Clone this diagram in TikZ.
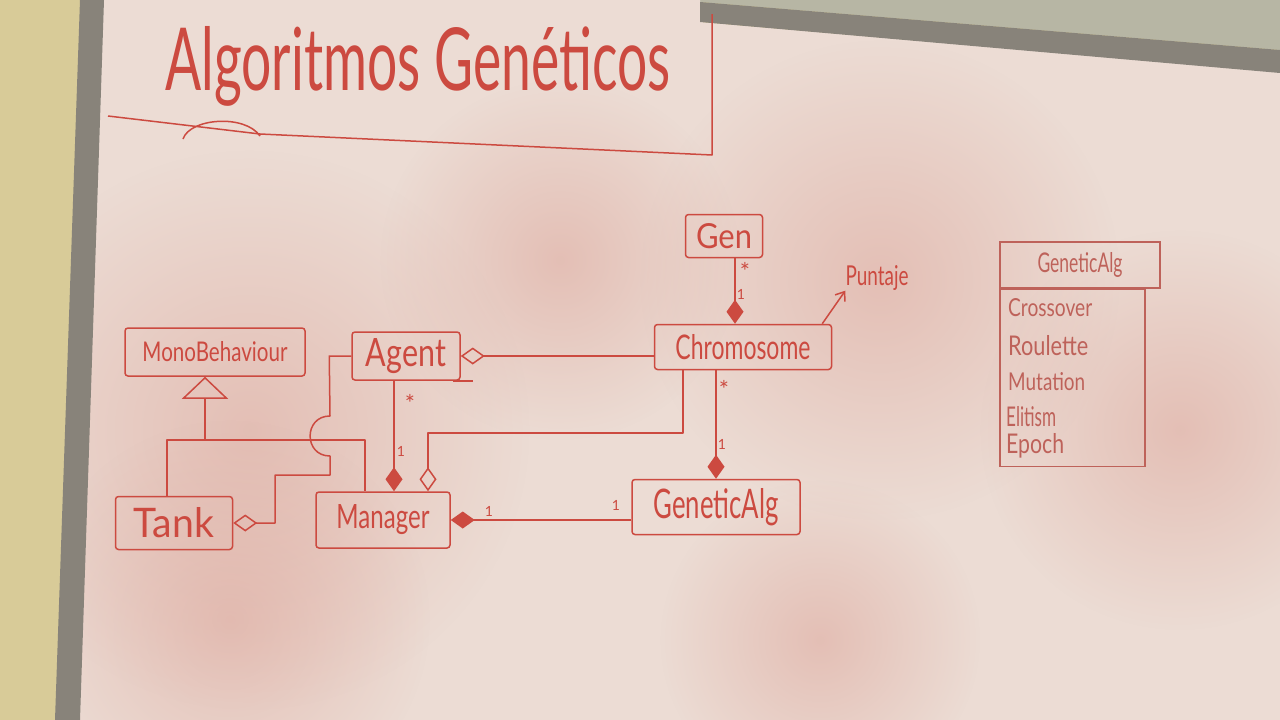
\documentclass[tikz,border=0pt]{standalone}
\usepackage{fontspec}
\usepackage{graphicx}
\setmainfont{Lato}
\usetikzlibrary{arrows.meta,fadings}
\definecolor{ink}{HTML}{CC4A40}
\definecolor{inklight}{HTML}{BE625A}
\definecolor{board}{HTML}{ECDCD4}
\definecolor{smudge}{HTML}{DDA79C}
\definecolor{wall}{HTML}{D8CB98}
\definecolor{wallgrey}{HTML}{B7B6A4}
\definecolor{frame}{HTML}{88837A}
\tikzfading[name=softspot, inner color=transparent!45, outer color=transparent!100]
\begin{document}
\begin{tikzpicture}[x=1pt,y=-1pt,
  cls/.style={draw=ink, line width=1.5pt, rounded corners=3pt, inner sep=0pt, text=ink},
  plainbox/.style={draw=inklight, line width=1.3pt, inner sep=0pt, text=inklight},
  wire/.style={draw=ink, line width=1.5pt, line join=round},
  comp/.style={wire, -{Diamond[length=24pt,width=17pt]}},
  aggr/.style={wire, -{Diamond[open,length=24pt,width=17pt]}},
  inherit/.style={wire, -{Triangle[open,length=22pt,width=46pt]}},
  mult/.style={text=ink, font=\fontsize{14}{14}\selectfont, inner sep=0pt},
  star/.style={text=ink, font=\fontsize{24}{24}\selectfont, inner sep=0pt},
  note/.style={text=ink, inner sep=0pt},
  attr/.style={text=inklight, inner sep=0pt, anchor=west},
  spot/.style={fill=smudge, path fading=softspot},
]
\useasboundingbox (0,0) rectangle (1280,720);
% ---- background: wall, board, frame
\fill[wall] (0,0) rectangle (1280,720);
\fill[wallgrey] (700,0) -- (1280,0) -- (1280,50) -- (700,2) -- cycle;
\fill[board] (102,0) -- (700,0) -- (700,22) -- (1280,72) -- (1280,720) -- (78,720) -- cycle;
\begin{scope}
  \clip (102,0) -- (700,0) -- (700,22) -- (1280,72) -- (1280,720) -- (78,720) -- cycle;
  \path[spot] (250,430) circle[radius=280];
  \path[spot] (230,620) circle[radius=200];
  \path[spot] (880,280) circle[radius=240];
  \path[spot] (1180,430) circle[radius=200];
  \path[spot] (560,260) circle[radius=180];
  \path[spot] (820,640) circle[radius=160];
\end{scope}
\fill[frame] (700,2) -- (1280,50) -- (1280,73) -- (700,22) -- cycle;
\fill[frame] (80,0) -- (104,0) -- (80,720) -- (55,720) -- cycle;

% ---- title
\node[note] (title) at (418,66) {\resizebox{505pt}{64pt}{Algoritmos Genéticos}};
\draw[wire] (108,116) -- (260,134) -- (712,155) -- (712,14);
\draw[wire] (183,139) .. controls (190,118) and (245,114) .. (260,136);

% ---- classes
\node[cls, minimum width=180pt, minimum height=48pt] (mono) at (215,352) {\resizebox{145pt}{20pt}{MonoBehaviour}};
\node[cls, minimum width=108pt, minimum height=48pt] (agent) at (406,356) {\resizebox{80pt}{28pt}{Agent}};
\node[cls, minimum width=177pt, minimum height=45pt] (chromo) at (743,347) {\resizebox{135pt}{25pt}{Chromosome}};
\node[cls, minimum width=77pt, minimum height=43pt] (gen) at (724,236) {\resizebox{56pt}{25pt}{Gen}};
\node[cls, minimum width=168pt, minimum height=55pt] (ga) at (716,507) {\resizebox{125pt}{30pt}{GeneticAlg}};
\node[cls, minimum width=134pt, minimum height=56pt] (man) at (383,520) {\resizebox{93pt}{24pt}{Manager}};
\node[cls, minimum width=117pt, minimum height=53pt] (tank) at (174,523) {\resizebox{80pt}{30pt}{Tank}};
\node[note] (punt) at (877,278) {\resizebox{63pt}{20pt}{Puntaje}};
\draw[wire] ([xshift=-8pt]agent.south east) -- ++(20,0);

% ---- class box on the right
\node[plainbox, minimum width=160pt, minimum height=46pt] (gahdr) at (1080,265) {\resizebox{85pt}{20pt}{GeneticAlg}};
\node[plainbox, minimum width=145pt, minimum height=177pt, anchor=north west] (gabody) at (gahdr.south west) {};
\node[attr] (a1) at (1008,308) {\resizebox{84pt}{18pt}{Crossover}};
\node[attr] (a2) at (1008,346) {\resizebox{80pt}{20pt}{Roulette}};
\node[attr] (a3) at (1008,382) {\resizebox{77pt}{18pt}{Mutation}};
\node[attr] (a4) at (1006,417) {\resizebox{50pt}{20pt}{Elitism}};
\node[attr] (a5) at (1006,446) {\resizebox{58pt}{20pt}{Epoch}};

% ---- connectors
\draw[comp] ([xshift=11pt]gen.south) -- ([xshift=11pt]gen.south |- chromo.north);
\draw[aggr] (chromo.west |- agent.east) -- (agent.east);
\draw[comp] (ga.north |- chromo.south) -- (ga.north);
\draw[comp] (ga.west |- man.east) -- (man.east);
\draw[comp] ([xshift=-12pt]agent.south) -- ([xshift=-12pt]agent.south |- man.north);
\coordinate (cm) at (683,433);
\draw[aggr] (chromo.south -| cm) -- (cm) -| ([xshift=45pt]man.north);
\coordinate (inh) at (205,440);
\draw[inherit] (inh) -- (inh |- mono.south);
\draw[wire] ([xshift=-7pt]tank.north) |- (inh) -| ([xshift=-18pt]man.north);
\draw[aggr] (agent.west) -- ++(-22,0) -- (330,416) to[out=180,in=180,looseness=1.7] (330,456) -- (330,475) -- (275,475) -- (275,0 |- tank.east) -- (tank.east);
\draw[wire, -{Straight Barb[length=8pt,width=12pt]}] ([xshift=-10pt]chromo.north east) -- (punt.south west);

% ---- multiplicities
\node[star] (m1) at (745,271) {*};
\node[mult] (m2) at (741,294) {1};
\node[star] (m3) at (724,389) {*};
\node[mult] (m4) at (722,444) {1};
\node[star] (m5) at (410,403) {*};
\node[mult] (m6) at (401,451) {1};
\node[mult] (m7) at (489,511) {1};
\node[mult] (m8) at (616,505) {1};
\end{tikzpicture}
\end{document}
